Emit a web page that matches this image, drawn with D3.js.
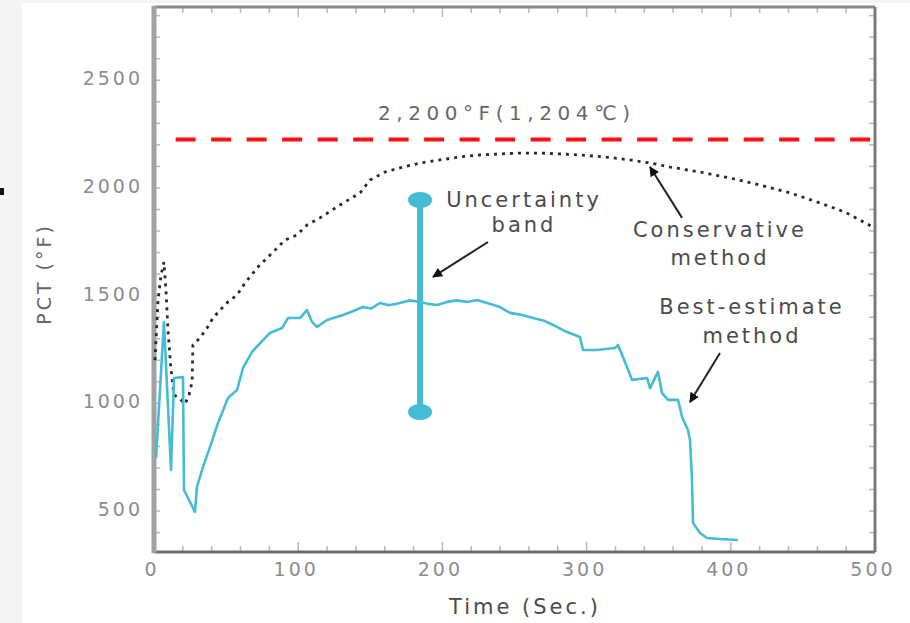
<!DOCTYPE html>
<html>
<head>
<meta charset="utf-8">
<script src="https://cdn.jsdelivr.net/npm/d3@7"></script>
<style>
    body { margin: 0; background: #f4f4f4; }
    svg { display: block; }
    text { font-family: "DejaVu Sans", sans-serif; }
</style>
</head>
<body>
<div id="chart"></div>
<script>
// time (s) and PCT (°F)
const consTime = [0.7, 2.8, 4.9, 6.9, 8.3, 9.7, 11.8, 13.9, 17.3, 21.5, 24.3, 26.4, 27.0, 31.9, 36.8, 40.9, 45.8, 51.3, 57.6, 63.1, 72.1, 78.4, 85.3, 90.8, 99.2, 106.1, 115.1, 129.0, 142.9, 149.8, 160.2, 170.6, 184.5, 198.3, 212.2, 226.1, 239.9, 253.8, 267.7, 281.6, 295.4, 312.8, 330.1, 344.0, 357.8, 378.6, 399.4, 420.2, 441.1, 461.9, 479.2, 500];
const consPct = [1201, 1480, 1596, 1656, 1526, 1341, 1155, 1039, 1025, 997, 1039, 1099, 1271, 1304, 1350, 1396, 1433, 1471, 1503, 1559, 1633, 1675, 1721, 1758, 1782, 1828, 1861, 1921, 1977, 2037, 2074, 2093, 2116, 2130, 2144, 2153, 2158, 2162, 2162, 2158, 2153, 2144, 2130, 2116, 2097, 2074, 2046, 2014, 1977, 1930, 1888, 1814];

const bestTime = [1.4, 6.9, 11.8, 13.9, 20.1, 20.8, 28.4, 29.8, 34.0, 38.8, 44.4, 51.3, 57.6, 61.7, 68.0, 75.6, 80.4, 88.8, 92.9, 101.2, 106.1, 109.6, 113.0, 120.0, 131.1, 137.0, 144.9, 150.5, 156.7, 163.0, 170.6, 177.0, 184.5, 190.0, 196.3, 203.2, 210.0, 217.1, 224.0, 230.9, 239.9, 246.9, 254.0, 262.8, 270.0, 276.7, 286.4, 295.4, 297.5, 307.2, 319.7, 321.8, 326.6, 331.5, 341.9, 344.0, 349.5, 352.3, 356.5, 363.4, 366.2, 370.3, 371.7, 373.1, 373.8, 378.6, 383.5, 392.5, 405.0];
const bestPct = [746, 1378, 691, 1118, 1122, 598, 496, 612, 705, 797, 909, 1025, 1062, 1164, 1239, 1294, 1327, 1350, 1396, 1396, 1433, 1378, 1355, 1387, 1410, 1425, 1447, 1440, 1466, 1455, 1466, 1478, 1471, 1462, 1457, 1471, 1478, 1471, 1480, 1466, 1447, 1420, 1412, 1396, 1385, 1364, 1331, 1308, 1248, 1248, 1257, 1271, 1192, 1109, 1118, 1071, 1146, 1048, 1016, 1016, 937, 876, 830, 644, 445, 398, 375, 370, 366];

const limitPct = 2225;
const limitStart = 15;
const limitLabel = "2,200°F(1,204℃)";

const bandTime = 184.5;
const bandLow = 960;
const bandHigh = 1944;

const xTicks = [0, 100, 200, 300, 400, 500];
const yTicks = [500, 1000, 1500, 2000, 2500];

const W = 910, H = 623;
const margin = { top: 7, right: 35, bottom: 71, left: 154 };

const svg = d3.select("#chart").append("svg")
    .attr("width", W).attr("height", H);

// scanned page: grey strip on the left and top
svg.append("rect").attr("x", 22).attr("y", 3).attr("width", W - 22).attr("height", H - 3).attr("fill", "#fff");
svg.append("rect").attr("x", 0).attr("y", 188).attr("width", 4).attr("height", 7).attr("fill", "#111");

const x = d3.scaleLinear().domain([0, 500]).range([margin.left, W - margin.right]);
const y = d3.scaleLinear().domain([310, 2840]).range([H - margin.bottom, margin.top]);

const x0 = x(0), x1 = x(500), y0 = y(310), y1 = y(2840);

// inner ticks
const minorX = d3.range(0, 501, 20);
const minorY = d3.range(400, 2801, 100);
const tickG = svg.append("g").attr("stroke", "#b8b8b8").attr("stroke-width", 1.5);
minorX.forEach(t => {
    const len = t % 100 === 0 ? 10 : 6;
    tickG.append("line").attr("x1", x(t)).attr("x2", x(t)).attr("y1", y0).attr("y2", y0 - len);
    tickG.append("line").attr("x1", x(t)).attr("x2", x(t)).attr("y1", y1).attr("y2", y1 + len);
});
minorY.forEach(v => {
    tickG.append("line").attr("x1", x0).attr("x2", x0 + 6).attr("y1", y(v)).attr("y2", y(v));
    tickG.append("line").attr("x1", x1).attr("x2", x1 - 6).attr("y1", y(v)).attr("y2", y(v));
});

// frame
svg.append("line").attr("x1", x0).attr("x2", x1).attr("y1", y1).attr("y2", y1).attr("stroke", "#8a8a8a").attr("stroke-width", 3);
svg.append("line").attr("x1", x1).attr("x2", x1).attr("y1", y1).attr("y2", y0).attr("stroke", "#7a7a7a").attr("stroke-width", 3);
svg.append("line").attr("x1", x0).attr("x2", x1).attr("y1", y0).attr("y2", y0).attr("stroke", "#6e6e6e").attr("stroke-width", 3);
svg.append("line").attr("x1", x0).attr("x2", x0).attr("y1", y1 - 1).attr("y2", y0 + 1).attr("stroke", "#a2a2a2").attr("stroke-width", 5);

// tick labels
svg.append("g").selectAll("text").data(xTicks).join("text")
    .attr("x", d => x(d) - 2).attr("y", y0 + 17)
    .attr("text-anchor", "middle").attr("dominant-baseline", "central")
    .attr("font-size", 19).attr("letter-spacing", 3).attr("fill", "#8c8c8c")
    .text(d => d);

svg.append("g").selectAll("text").data(yTicks).join("text")
    .attr("x", x0 - 11).attr("y", d => y(d) - 2)
    .attr("text-anchor", "end").attr("dominant-baseline", "central")
    .attr("font-size", 19).attr("letter-spacing", 3).attr("fill", "#8c8c8c")
    .text(d => d);

// axis titles
svg.append("text")
    .attr("x", 525).attr("y", 607)
    .attr("text-anchor", "middle").attr("dominant-baseline", "central")
    .attr("font-size", 21).attr("letter-spacing", 3).attr("fill", "#4a4a4a")
    .text("Time (Sec.)");

svg.append("text")
    .attr("transform", "translate(44,274) rotate(-90)")
    .attr("text-anchor", "middle").attr("dominant-baseline", "central")
    .attr("font-size", 19).attr("letter-spacing", 3).attr("fill", "#666")
    .text("PCT (°F)");

// 2200 F limit
svg.append("line")
    .attr("x1", x(limitStart)).attr("x2", x1)
    .attr("y1", y(limitPct)).attr("y2", y(limitPct))
    .attr("stroke", "#ff1010").attr("stroke-width", 4)
    .attr("stroke-dasharray", "20,15.5");

svg.append("text")
    .attr("x", x(242.7)).attr("y", y(2348))
    .attr("text-anchor", "middle").attr("dominant-baseline", "central")
    .attr("font-family", "Liberation Serif, serif")
    .attr("font-size", 20).attr("fill", "#666")
    .attr("textLength", 252).attr("lengthAdjust", "spacing")
    .text(limitLabel);

const line = d3.line().x(d => x(d[0])).y(d => y(d[1]));

// conservative method
svg.append("path")
    .datum(d3.zip(consTime, consPct))
    .attr("fill", "none").attr("stroke", "#2a2a2a")
    .attr("stroke-width", 2.8).attr("stroke-dasharray", "3,5")
    .attr("d", line);

// best-estimate method
svg.append("path")
    .datum(d3.zip(bestTime, bestPct))
    .attr("fill", "none").attr("stroke", "#45bcd6")
    .attr("stroke-width", 2.6).attr("stroke-linejoin", "round")
    .attr("d", line);

// uncertainty band
svg.append("line")
    .attr("x1", x(bandTime)).attr("x2", x(bandTime))
    .attr("y1", y(bandHigh)).attr("y2", y(bandLow))
    .attr("stroke", "#45bcd6").attr("stroke-width", 6);
svg.append("g").selectAll("ellipse").data([bandHigh, bandLow]).join("ellipse")
    .attr("cx", x(bandTime)).attr("cy", d => y(d))
    .attr("rx", 12).attr("ry", 8).attr("fill", "#45bcd6");

// annotations
svg.append("defs").append("marker")
    .attr("id", "head").attr("viewBox", "0 0 10 10")
    .attr("refX", 9).attr("refY", 5)
    .attr("markerWidth", 5).attr("markerHeight", 5)
    .attr("markerUnits", "strokeWidth").attr("orient", "auto")
    .append("path").attr("d", "M0,0L10,5L0,10z").attr("fill", "#111");

const notes = [
    { lines: ["Uncertainty", "band"], t: 255.2, v: [1944, 1828], from: [231.6, 1749], to: [193.5, 1587] },
    { lines: ["Conservative", "method"], t: 391.1, v: [1805, 1675], from: [366.2, 1861], to: [344.0, 2097] },
    { lines: ["Best-estimate", "method"], t: 413.3, v: [1447, 1313], from: [392.5, 1234], to: [371.7, 1006] }
];

notes.forEach(n => {
    n.lines.forEach((s, i) => {
        svg.append("text")
            .attr("x", x(n.t) + 2).attr("y", y(n.v[i]))
            .attr("text-anchor", "middle").attr("dominant-baseline", "central")
            .attr("font-size", 21).attr("letter-spacing", 3).attr("fill", "#4a4a4a")
            .text(s);
    });
    svg.append("line")
        .attr("x1", x(n.from[0])).attr("y1", y(n.from[1]))
        .attr("x2", x(n.to[0])).attr("y2", y(n.to[1]))
        .attr("stroke", "#222").attr("stroke-width", 2)
        .attr("marker-end", "url(#head)");
});
</script>
</body>
</html>
